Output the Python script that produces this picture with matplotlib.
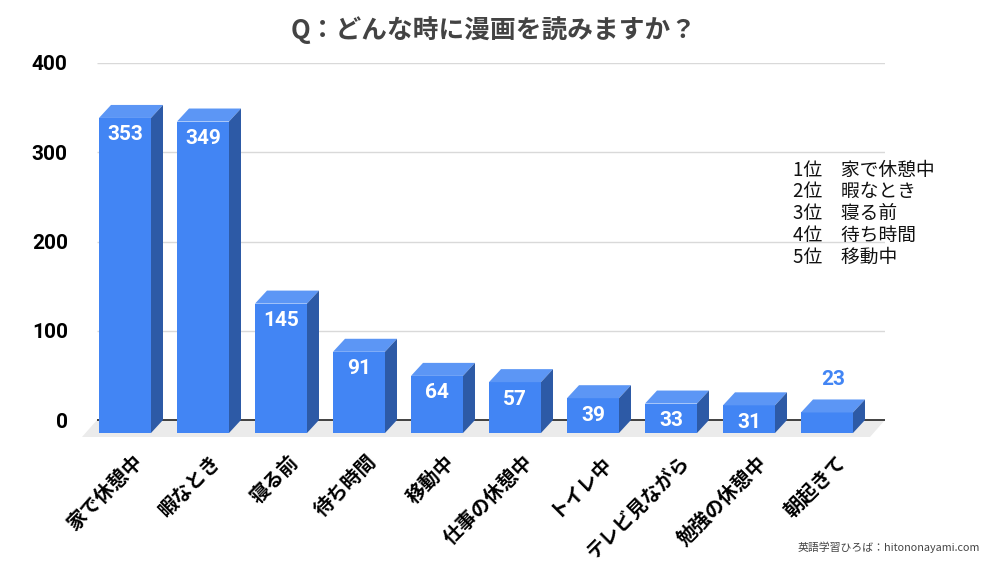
import matplotlib
matplotlib.use('Agg')
import matplotlib.pyplot as plt
from matplotlib.patches import Polygon
import matplotlib.transforms as mtransforms

plt.rcParams['font.family'] = ['Noto Sans CJK JP', 'DejaVu Sans']

# data
categories = ['家で休憩中', '暇なとき', '寝る前', '待ち時間', '移動中',
              '仕事の休憩中', 'トイレ中', 'テレビ見ながら', '勉強の休憩中', '朝起きて']
counts = [353, 349, 145, 91, 64, 57, 39, 33, 31, 23]
ranking = ['1位　家で休憩中', '2位　暇なとき', '3位　寝る前', '4位　待ち時間', '5位　移動中']
yticks = [0, 100, 200, 300, 400]

title = 'Q：どんな時に漫画を読みますか？'
credit = '英語学習ひろば：hitononayami.com'

front_c = '#4285f4'
top_c = '#5c96f5'
side_c = '#2d5aa6'

W, H = 1000, 563
fig = plt.figure(figsize=(10, 5.63), dpi=100)

# axes geometry (pixels)
px_x = 78.0          # pixels per category
px_y = 0.8925        # pixels per unit value
x0_px = 125          # centre of first bar
left_px, right_px = 97, 885
zero_px = 420
ymin = -25
xmin = (left_px - x0_px) / px_x
xmax = (right_px - x0_px) / px_x
ax = fig.add_axes([left_px / W, (H - (zero_px - ymin * px_y)) / H,
                   (right_px - left_px) / W, (400 - ymin) * px_y / H])
ax.set_xlim(xmin, xmax)
ax.set_ylim(ymin, 400)
for s in ax.spines.values():
    s.set_visible(False)

dx = 12 / px_x
dy = 13 / px_y
bw = 52 / px_x

# floor
floor_d = 19
fl = Polygon([(xmin, 0), (xmax, 0), (xmax - 15 / px_x, -floor_d), (xmin - 15 / px_x, -floor_d)],
             closed=True, facecolor='#ebebeb', edgecolor='none', zorder=0.5, clip_on=False)
ax.add_patch(fl)

# grid and baseline
ax.hlines(yticks[1:], xmin, xmax, color='#d9d9d9', lw=1, zorder=1)
ax.plot([xmin, xmax], [0, 0], color='#333333', lw=1.3, zorder=1.5)

num_font = ['Roboto', 'DejaVu Sans']
for i, v in enumerate(counts):
    x0 = i - bw / 2
    front = Polygon([(x0, -dy), (x0 + bw, -dy), (x0 + bw, v - dy), (x0, v - dy)],
                    facecolor=front_c, edgecolor='none', zorder=3, clip_on=False)
    top = Polygon([(x0, v - dy), (x0 + bw, v - dy), (x0 + bw + dx, v), (x0 + dx, v)],
                  facecolor=top_c, edgecolor='none', zorder=3, clip_on=False)
    side = Polygon([(x0 + bw, -dy), (x0 + bw + dx, 0), (x0 + bw + dx, v), (x0 + bw, v - dy)],
                   facecolor=side_c, edgecolor='none', zorder=3, clip_on=False)
    for p in (front, top, side):
        ax.add_patch(p)
    if v >= 30:
        ax.text(i, v - dy - 17 / px_y, str(v), ha='center', va='center', color='white',
                fontsize=15, fontweight='bold', family=num_font, zorder=4)
    else:
        ax.text(i + dx / 2, v + 20 / px_y, str(v), ha='center', va='center', color=front_c,
                fontsize=15, fontweight='bold', family=num_font, zorder=4)

# category labels
off = mtransforms.offset_copy(ax.transData, fig=fig, x=8, y=0, units='dots')
for i, c in enumerate(categories):
    ax.text(i, -36, c, rotation=45, ha='right', va='top', rotation_mode='anchor',
            fontsize=14, fontweight='bold', transform=off, clip_on=False)

ax.set_xticks([])
ax.set_yticks(yticks)
ax.set_yticklabels([str(t) for t in yticks], fontsize=15, fontweight='bold', family=num_font)
ax.tick_params(axis='y', length=0, pad=21)

fig.text(0.494, (H - 30) / H, title, ha='center', va='center', fontsize=18.5,
         fontweight='bold', color='#434343')

for k, line in enumerate(ranking):
    fig.text(793 / W, (H - (170 + 21.8 * k)) / H, line, ha='left', va='center',
             fontsize=13.5, color='#111111')

fig.text(980 / W, (H - 547) / H, credit, ha='right', va='center', fontsize=7.8, color='#444444')

fig.savefig('out.png', dpi=100)
